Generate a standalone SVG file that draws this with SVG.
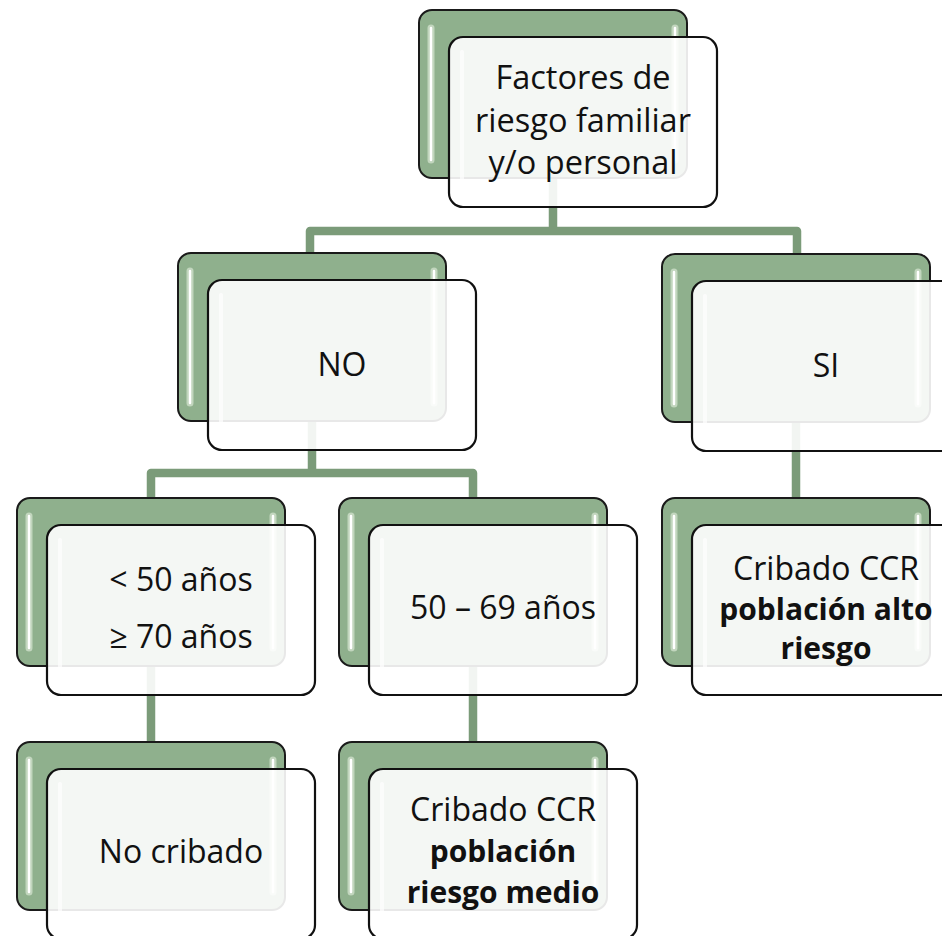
<svg xmlns="http://www.w3.org/2000/svg" width="942" height="936" viewBox="0 0 942 936">
<defs>
<style>
.bk{fill:#8fb08d;stroke:#1a1a1a;stroke-width:2}
.hl{stroke:#cfe0cb;stroke-width:7;stroke-linecap:round;opacity:0.8}
.hw{stroke:#ffffff;stroke-width:2.5;stroke-linecap:round}
.fr{fill:#ffffff;fill-opacity:0.9;stroke:#111;stroke-width:2.2}
.fh{stroke:#ffffff;stroke-width:4;stroke-linecap:round}
.cn{fill:none;stroke:#7b9b79;stroke-width:8.5;stroke-linejoin:round}
.t{font-family:"Open Sans","Liberation Sans",sans-serif;font-size:32px;fill:#111;text-anchor:middle}
.lg{font-size:32.5px}
.b{font-weight:bold;font-size:30px}
</style>
<g id="card">
<rect class="bk" x="0" y="0" width="268" height="168" rx="13"/>
<line class="hl" x1="12" y1="18" x2="12" y2="150"/>
<line class="hw" x1="12" y1="18" x2="12" y2="150"/>
<line class="hl" x1="256" y1="18" x2="256" y2="150"/>
<line class="hw" x1="256" y1="18" x2="256" y2="150"/>
<rect class="fr" x="30" y="27" width="268" height="170" rx="14"/>
<line class="fh" x1="43" y1="42" x2="43" y2="180" opacity="0.7"/>
</g>
</defs>
<rect width="942" height="936" fill="#ffffff"/>
<g id="connectors">
<path class="cn" d="M553,178 V231"/>
<path class="cn" d="M310,254 V231 H797 V255"/>
<path class="cn" d="M312,422 V473"/>
<path class="cn" d="M151,499 V473 H473 V499"/>
<path class="cn" d="M151,666 V743"/>
<path class="cn" d="M473,666 V743"/>
<path class="cn" d="M796,422 V499"/>
</g>
<g id="n-factores">
<use href="#card" x="419" y="10"/>
<text class="t lg" x="583" y="89">Factores de</text>
<text class="t lg" x="583" y="131.5">riesgo familiar</text>
<text class="t lg" x="583" y="174">y/o personal</text>
</g>
<g id="n-no">
<use href="#card" x="178" y="253"/>
<text class="t" x="342" y="376">NO</text>
</g>
<g id="n-si">
<use href="#card" x="662" y="254"/>
<text class="t" x="826" y="377">SI</text>
</g>
<g id="n-edad-fuera">
<use href="#card" x="17" y="498"/>
<text class="t" x="181" y="591">&lt; 50 años</text>
<text class="t" x="181" y="648">≥ 70 años</text>
</g>
<g id="n-edad-rango">
<use href="#card" x="339" y="498"/>
<text class="t" x="503" y="619">50 – 69 años</text>
</g>
<g id="n-alto">
<use href="#card" x="662" y="498"/>
<text class="t" x="826" y="580">Cribado CCR</text>
<text class="t b" x="826" y="620">población alto</text>
<text class="t b" x="826" y="659">riesgo</text>
</g>
<g id="n-nocribado">
<use href="#card" x="17" y="742"/>
<text class="t" x="181" y="863">No cribado</text>
</g>
<g id="n-medio">
<use href="#card" x="339" y="742"/>
<text class="t" x="503" y="821">Cribado CCR</text>
<text class="t b" x="503" y="862">población</text>
<text class="t b" x="503" y="903">riesgo medio</text>
</g>
</svg>
